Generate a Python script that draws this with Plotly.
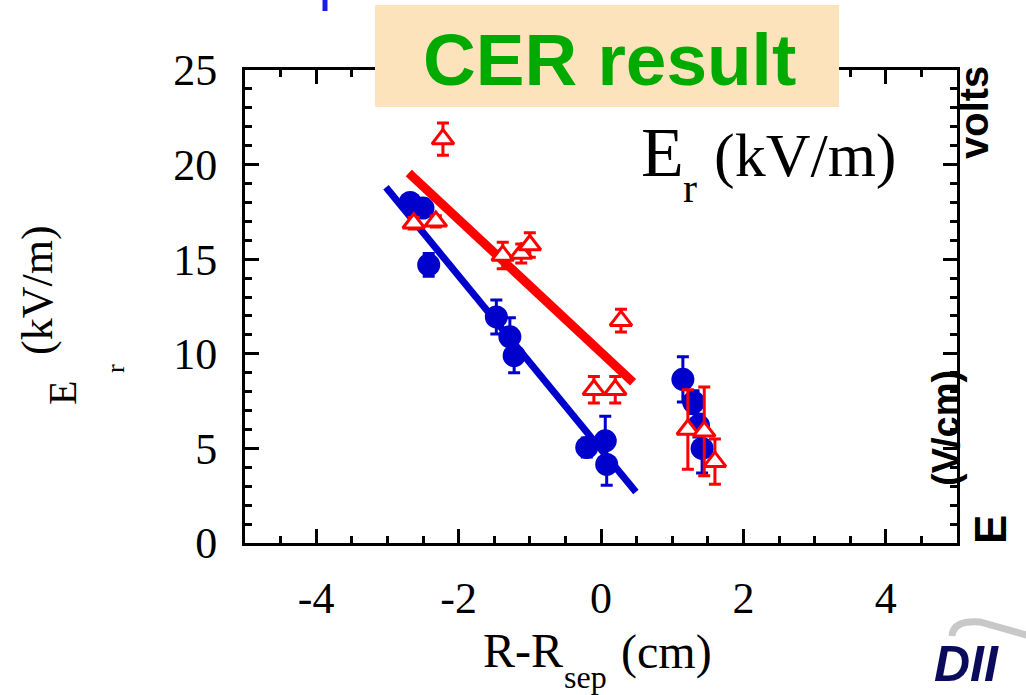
import plotly.graph_objects as go

# ---- data ----
blue_x = [-2.68, -2.5, -2.42, -1.47, -1.28, -1.22, -0.2, 0.06, 0.08, 1.15, 1.3, 1.37, 1.42]
blue_y = [18.0, 17.7, 14.7, 11.95, 10.9, 9.9, 5.05, 5.4, 4.15, 8.65, 7.45, 6.2, 5.0]
blue_err = [0.4, 0.4, 0.6, 0.9, 1.0, 0.9, 0.5, 1.3, 1.1, 1.2, 0.6, 0.6, 1.3]

red_x = [-2.22, -2.63, -2.32, -1.38, -1.12, -1.0, 0.28, -0.1, 0.2, 1.22, 1.45, 1.6]
red_y = [21.35, 16.9, 17.0, 15.2, 15.3, 15.75, 11.75, 8.1, 8.1, 6.0, 5.9, 4.3]
red_err = [0.85, 0.3, 0.3, 0.7, 0.5, 0.65, 0.6, 0.7, 0.7, 2.1, 2.35, 1.2]

blue_fit_x = [-3.02, 0.49]
blue_fit_y = [18.8, 2.7]
red_fit_x = [-2.70, 0.45]
red_fit_y = [19.56, 8.5]

x_ticks = [-4, -2, 0, 2, 4]
y_ticks = [0, 5, 10, 15, 20, 25]

BLUE = "#0000cc"
RED = "#ff0000"

# figure geometry helpers (pixel -> paper)
L, R, T, B = 245, 957, 70, 543
def px(x):
    return (x - L) / (R - L)
def py(y):
    return (B - y) / (B - T)

fig = go.Figure()
fig.add_trace(go.Scatter(x=blue_fit_x, y=blue_fit_y, mode="lines",
                         line=dict(color=BLUE, width=7), showlegend=False))
fig.add_trace(go.Scatter(x=blue_x, y=blue_y, mode="markers",
                         marker=dict(symbol="circle", size=23, color=BLUE),
                         error_y=dict(type="data", array=blue_err, color=BLUE,
                                      thickness=3, width=6),
                         showlegend=False))
fig.add_trace(go.Scatter(x=red_fit_x, y=red_fit_y, mode="lines",
                         line=dict(color=RED, width=9), showlegend=False))
fig.add_trace(go.Scatter(x=red_x, y=red_y, mode="markers",
                         marker=dict(symbol="triangle-up", size=19, color="white",
                                     line=dict(color=RED, width=3)),
                         error_y=dict(type="data", array=red_err, color=RED,
                                      thickness=3, width=6),
                         showlegend=False))

tickfont = dict(family="Liberation Serif", size=44, color="black")
fig.update_xaxes(range=[-5, 5], tickvals=x_ticks, ticktext=[str(v) for v in x_ticks],
                 showline=True, linecolor="black", linewidth=3, mirror="ticks",
                 ticks="inside", ticklen=14, tickwidth=2.5, tickcolor="black",
                 minor=dict(ticks="inside", dtick=0.5, ticklen=7, tickwidth=2.5, tickcolor="black"),
                 showgrid=False, zeroline=False, tickfont=tickfont, ticklabelstandoff=14)
fig.update_yaxes(range=[0, 25], tickvals=y_ticks, ticktext=[str(v) for v in y_ticks],
                 showline=True, linecolor="black", linewidth=3, mirror="ticks",
                 ticks="inside", ticklen=14, tickwidth=2.5, tickcolor="black",
                 minor=dict(ticks="inside", dtick=1, ticklen=7, tickwidth=2.5, tickcolor="black"),
                 showgrid=False, zeroline=False, tickfont=tickfont, ticklabelstandoff=16)

serif = "Liberation Serif"
sans = "Liberation Sans"
ann = []
def a(text, x, y, size, family=serif, color="black", angle=0, xanchor="center", yanchor="middle"):
    ann.append(dict(text=text, x=px(x), y=py(y), xref="paper", yref="paper",
                    showarrow=False, textangle=angle, xanchor=xanchor, yanchor=yanchor,
                    font=dict(family=family, size=size, color=color)))

# y-axis title
a("(kV/m)", 37, 290, 44, angle=-90)
a("E", 62, 393, 40, angle=-90)
a("r", 115, 369, 26, angle=-90)
# x-axis title
a("R-R", 523, 650, 48)
a("sep", 585, 677, 32)
a("(cm)", 666, 652, 48)
# in-plot label
a("E", 662, 152, 70)
a("r", 690, 188, 42)
a("(kV/m)", 805, 156, 62)
# CER result label
a("<b>CER result</b>", 609, 60, 73, family=sans, color="#00aa00")
# remnants of overlapped slide content on the right
a("<b>volts</b>", 974, 113, 40, family=sans, angle=-90)
a("<b>(V/cm)</b>", 946, 428, 38, family=sans, angle=-90)
a("<b>E</b>", 990, 530, 44, family=sans, angle=-90)
a("<b><i>DII</i></b>", 932, 694, 50, family=sans, color="#0b0b5c", xanchor="left", yanchor="bottom")

shapes = [
    dict(type="rect", xref="paper", yref="paper", x0=px(375), x1=px(839), y0=py(107), y1=py(5),
         fillcolor="#fce3bb", line=dict(width=0), layer="above"),
    dict(type="line", xref="paper", yref="paper", x0=px(325), x1=px(325), y0=py(0), y1=py(11),
         line=dict(color="#1a1aee", width=5), layer="above"),
    dict(type="path", xref="paper", yref="paper",
         path=f"M {px(952)},{py(636)} Q {px(953)},{py(620)} {px(980)},{py(622)} L {px(1030)},{py(636)}",
         line=dict(color="#c8c8c8", width=7), layer="above"),
]

fig.update_layout(width=1026, height=695, autosize=False,
                  margin=dict(l=L, r=1026 - R, t=T, b=695 - B, pad=0),
                  paper_bgcolor="white", plot_bgcolor="white",
                  annotations=ann, shapes=shapes, showlegend=False)

fig.write_html("out.html")
